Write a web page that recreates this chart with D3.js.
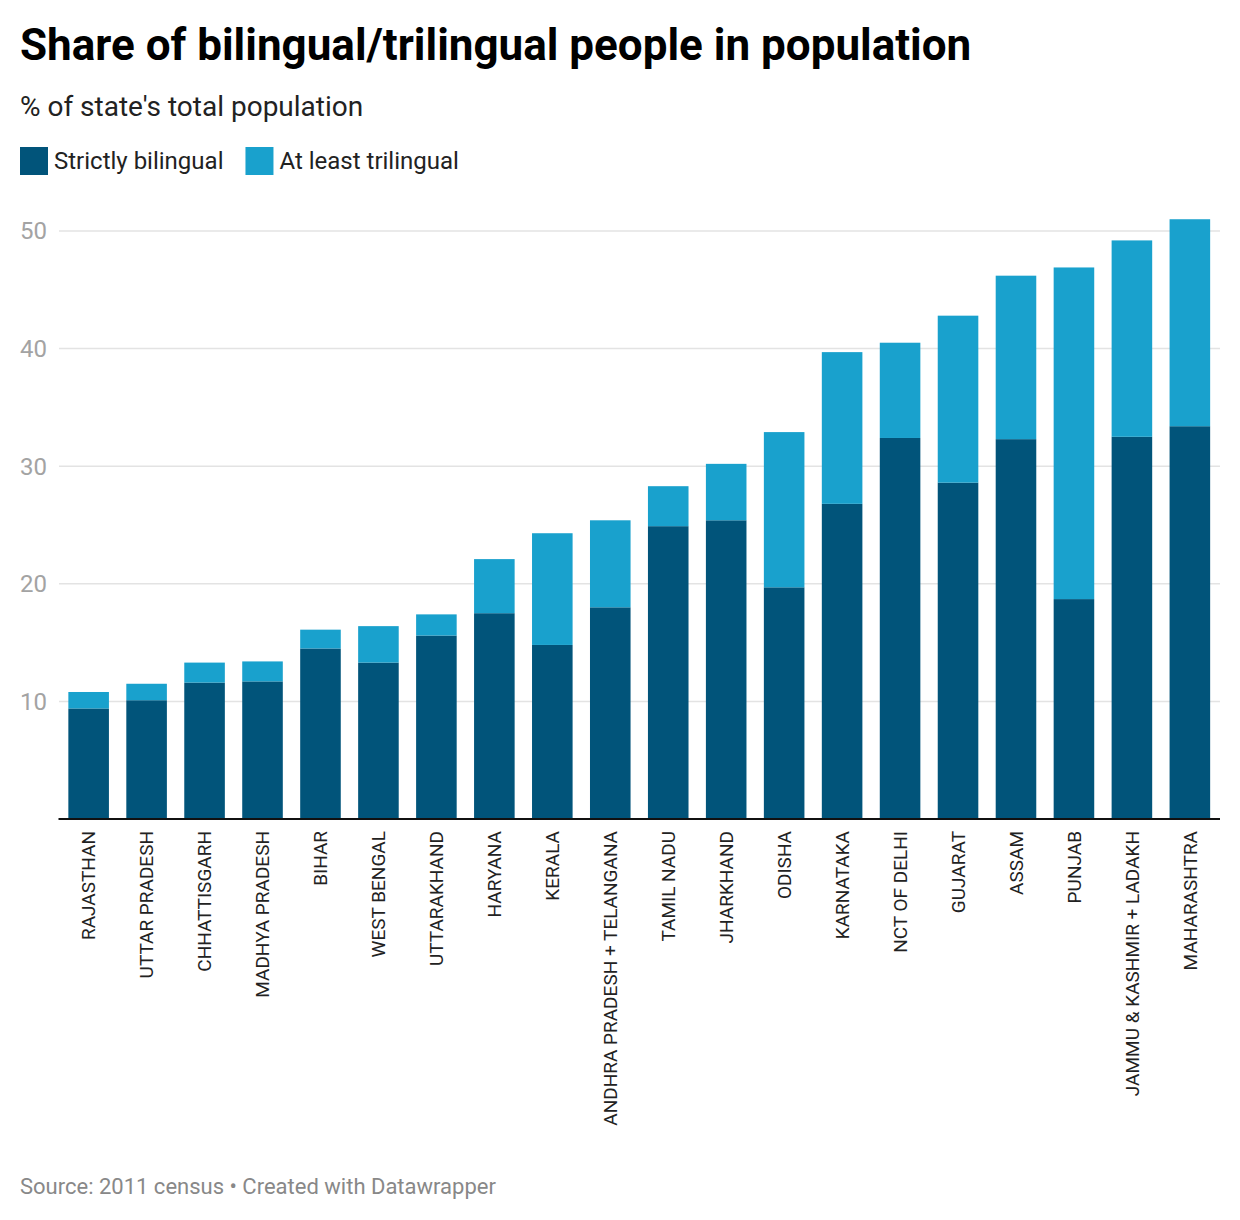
<!DOCTYPE html>
<html>
<head>
<meta charset="utf-8">
<script src="https://cdn.jsdelivr.net/npm/d3@7"></script>
<style>
  body { margin: 0; background: #fff; font-family: Roboto, "Noto Sans", sans-serif; }
</style>
</head>
<body>
<div id="chart"></div>
<script>
const states = ["RAJASTHAN", "UTTAR PRADESH", "CHHATTISGARH", "MADHYA PRADESH", "BIHAR",
    "WEST BENGAL", "UTTARAKHAND", "HARYANA", "KERALA", "ANDHRA PRADESH + TELANGANA",
    "TAMIL NADU", "JHARKHAND", "ODISHA", "KARNATAKA", "NCT OF DELHI", "GUJARAT",
    "ASSAM", "PUNJAB", "JAMMU & KASHMIR + LADAKH", "MAHARASHTRA"];
const bilingual = [9.4, 10.1, 11.6, 11.7, 14.5, 13.3, 15.6, 17.5, 14.8, 18.0,
    24.9, 25.4, 19.7, 26.8, 32.4, 28.6, 32.3, 18.7, 32.5, 33.4];
const totals = [10.8, 11.5, 13.3, 13.4, 16.1, 16.4, 17.4, 22.1, 24.3, 25.4,
    28.3, 30.2, 32.9, 39.7, 40.5, 42.8, 46.2, 46.9, 49.2, 51.0];
const yTicks = [10, 20, 30, 40, 50];
const seriesNames = ["Strictly bilingual", "At least trilingual"];
const colors = ["#01547a", "#19a1cd"];

const W = 1240, H = 1220;
const svg = d3.select("#chart").append("svg")
    .attr("width", W)
    .attr("height", H)
    .style("font-family", "Roboto, sans-serif");

// header
svg.append("text")
    .attr("x", 20).attr("y", 60)
    .attr("font-size", 44).attr("font-weight", 700).attr("fill", "#000")
    .text("Share of bilingual/trilingual people in population");

svg.append("text")
    .attr("x", 20).attr("y", 116)
    .attr("font-size", 28).attr("fill", "#222")
    .text("% of state's total population");

// legend
const legend = svg.append("g").attr("transform", "translate(20, 147)");
let lx = 0;
seriesNames.forEach((name, i) => {
    const g = legend.append("g").attr("transform", `translate(${lx}, 0)`);
    g.append("rect").attr("width", 28).attr("height", 28).attr("fill", colors[i]);
    const t = g.append("text")
        .attr("x", 34).attr("y", 22)
        .attr("font-size", 24).attr("fill", "#222")
        .text(name);
    lx += 34 + t.node().getComputedTextLength() + 22;
});

// stacked data
const data = states.map((s, i) => ({
    state: s,
    bi: bilingual[i],
    tri: +(totals[i] - bilingual[i]).toFixed(1)
}));
const stack = d3.stack().keys(["bi", "tri"])(data);

const x = d3.scaleBand()
    .domain(states)
    .range([58.5, 1220])
    .paddingInner(0.3)
    .paddingOuter(0.17);

const y = d3.scaleLinear()
    .domain([0, 50])
    .range([819, 231]);

// grid + y labels
const grid = svg.append("g");
grid.selectAll("line")
    .data(yTicks)
    .join("line")
    .attr("x1", 59).attr("x2", 1220)
    .attr("y1", d => y(d)).attr("y2", d => y(d))
    .attr("stroke", "#e3e3e3").attr("stroke-width", 1.5);
grid.selectAll("text")
    .data(yTicks)
    .join("text")
    .attr("x", 47).attr("y", d => y(d))
    .attr("dy", "0.35em")
    .attr("text-anchor", "end")
    .attr("font-size", 24).attr("fill", "#a3a3a3")
    .text(d => d);

// bars
svg.append("g")
  .selectAll("g")
  .data(stack)
  .join("g")
    .attr("fill", (d, i) => colors[i])
  .selectAll("rect")
  .data(d => d)
  .join("rect")
    .attr("x", d => x(d.data.state))
    .attr("y", d => y(d[1]))
    .attr("width", x.bandwidth())
    .attr("height", d => y(d[0]) - y(d[1]));

// x axis
const xAxis = svg.append("g")
    .attr("transform", `translate(0, ${y(0)})`)
    .call(d3.axisBottom(x).tickSize(0).tickPadding(0));
xAxis.select(".domain")
    .attr("d", "M58.5,0H1220")
    .attr("stroke", "#111").attr("stroke-width", 2);
xAxis.selectAll("text")
    .attr("transform", "rotate(-90)")
    .attr("x", -12).attr("y", 0)
    .attr("dy", "0.35em")
    .attr("text-anchor", "end")
    .attr("font-family", "Roboto, sans-serif")
    .attr("font-size", 19).attr("fill", "#222");

// footer
svg.append("text")
    .attr("x", 20).attr("y", 1194)
    .attr("font-size", 22).attr("fill", "#888")
    .text("Source: 2011 census • Created with Datawrapper");
</script>
</body>
</html>
